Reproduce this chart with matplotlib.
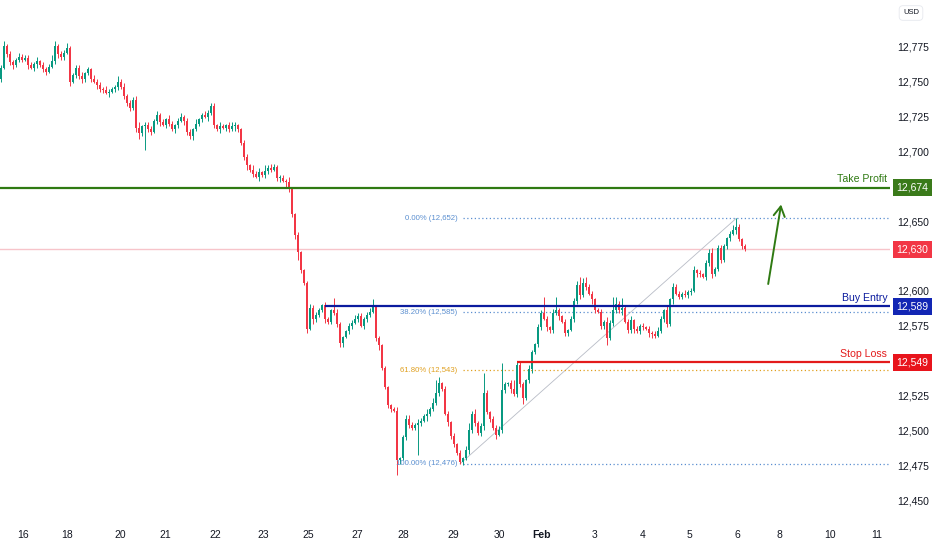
import numpy as np
import matplotlib
matplotlib.use("Agg")
import matplotlib.pyplot as plt
import matplotlib.transforms as mtransforms
from matplotlib import font_manager
from matplotlib.patches import Rectangle

available = {f.name for f in font_manager.fontManager.ttflist}
NARROW = 'Liberation Sans Narrow' if 'Liberation Sans Narrow' in available else 'Liberation Sans'
plt.rcParams['font.family'] = ['Liberation Sans', 'DejaVu Sans']

# candle closes, one per bar (opens are the previous close)
first_open = 12752
closes = [
    12760, 12776, 12770, 12764, 12762, 12766, 12768, 12766, 12767, 12762,
    12760, 12763, 12765, 12762, 12759, 12757, 12761, 12765, 12776, 12770,
    12768, 12771, 12774, 12750, 12755, 12760, 12754, 12752, 12756, 12759,
    12752, 12750, 12748, 12745, 12744, 12742, 12743, 12745, 12746, 12750,
    12746, 12740, 12735, 12731, 12737, 12717, 12713, 12718, 12719, 12716,
    12714, 12722, 12726, 12721, 12719, 12723, 12720, 12716, 12719, 12722,
    12725, 12722, 12714, 12711, 12716, 12720, 12723, 12726, 12725, 12728,
    12733, 12719, 12716, 12718, 12717, 12719, 12716, 12718, 12719, 12716,
    12706, 12696, 12690, 12687, 12684, 12682, 12685, 12683, 12686, 12688,
    12687, 12689, 12681, 12681, 12679, 12678, 12673, 12655, 12640, 12628,
    12615, 12606, 12573, 12588, 12580, 12583, 12586, 12590, 12580, 12578,
    12586, 12584, 12576, 12563, 12567, 12571, 12575, 12577, 12580, 12582,
    12575, 12580, 12583, 12585, 12589, 12566, 12561, 12545, 12531, 12518,
    12515, 12514, 12479, 12480, 12495, 12508, 12504, 12502, 12504, 12505,
    12507, 12510, 12512, 12515, 12520, 12527, 12534, 12530, 12512, 12506,
    12496, 12490, 12484, 12477, 12480, 12486, 12500, 12512, 12505, 12498,
    12503, 12527, 12513, 12508, 12502, 12497, 12500, 12529, 12533, 12534,
    12530, 12526, 12547, 12533, 12523, 12536, 12544, 12556, 12562, 12574,
    12584, 12580, 12574, 12572, 12584, 12586, 12582, 12578, 12570, 12572,
    12580, 12593, 12604, 12597, 12606, 12603, 12598, 12594, 12586, 12585,
    12575, 12578, 12566, 12577, 12586, 12591, 12586, 12588, 12578, 12572,
    12579, 12573, 12571, 12575, 12574, 12573, 12570, 12569, 12568, 12571,
    12580, 12586, 12576, 12594, 12603, 12598, 12596, 12598, 12597, 12599,
    12600, 12615, 12613, 12612, 12610, 12620, 12627, 12612, 12616, 12631,
    12622, 12632, 12638, 12641, 12644, 12646, 12637, 12632, 12630,
]

# wick lengths above / below the body, base-36 digits, one per bar
wick_up = (
    "2312213222" "2131222431" "2242122312" "1322132124" "2312234122"
    "2132213212" "3122131232" "2213212321" "1221323142" "3212214112"
    "1113222121" "1932112232" "2123512111" "1231233213" "2232394122"
    "1212135232" "2e21223j21" "2632213212" "2c213a2121" "2236342212"
    "2132a52712" "3121212123" "2131322132" "2312123412" "221236212"
)
wick_dn = (
    "2122312213" "1231221123" "2213122321" "2132213122" "12221342h2"
    "2123122132" "1322312213" "2213122132" "1232213122" "2123142236"
    "2231422132" "2123312212" "1222123212" "21b312222m" "2132122213"
    "2221213221" "2312231221" "3122412312" "2132213122" "1223121321"
    "2251222312" "2312213321" "1221312212" "2132122312" "212213121"
)

take_profit = 12674
buy_entry = 12589
stop_loss = 12549
last_price = closes[-1]

fib_low, fib_high = 12476, 12652
fib_low_bar, fib_high_bar = 153, 245
fib_levels = [0.0, 0.382, 0.618, 1.0]

buy_entry_start_bar = 108
stop_loss_start_bar = 172
arrow_tail = (255.7, 12605)
arrow_tip = (260.0, 12662)

# scale labels hidden behind the price boxes are left out
price_ticks = [12450, 12475, 12500, 12525, 12575, 12600, 12650, 12700, 12725, 12750, 12775]
date_ticks = [7.3, 22, 39.7, 54.7, 71.3, 87.3, 102.3, 118.7, 134, 150.7,
              166, 180, 197.7, 213.7, 229.3, 245.3, 259.3, 276.3, 292]
date_labels = ['16', '18', '20', '21', '22', '23', '25', '27', '28', '29',
               '30', 'Feb', '3', '4', '5', '6', '8', '10', '11']

UP, DOWN = '#089981', '#f23645'
GREEN, BLUE, RED = '#2f7a12', '#0b1b9e', '#e31b1b'
FIB_BLUE, FIB_ORANGE = '#5b8fd0', '#e0a020'
TEXT = '#131722'

c = np.array(closes, dtype=float)
o = np.concatenate([[first_open], c[:-1]])
up = np.array([int(ch, 36) for ch in wick_up], dtype=float)
dn = np.array([int(ch, 36) for ch in wick_dn], dtype=float)
assert len(up) == len(c) == len(dn)
hi = np.maximum(o, c) + up
lo = np.minimum(o, c) - dn
idx = np.arange(len(c))
colors = np.where(c >= o, UP, DOWN)

fig = plt.figure(figsize=(9.32, 5.5), dpi=100)
fig.patch.set_facecolor('white')
ax = fig.add_axes([0, 28 / 550, 890 / 932, 522 / 550])
ax.set_xlim(-0.33, 296.3)
ax.set_ylim(12434.3, 12808.7)
for s in ax.spines.values():
    s.set_visible(False)

# axes
ax.yaxis.tick_right()
ax.set_yticks(price_ticks, [f"{v:,}" for v in price_ticks])
ax.tick_params(axis='y', length=0, pad=5, labelsize=7.5, labelcolor=TEXT)
ax.set_xticks(date_ticks, date_labels)
ax.tick_params(axis='x', length=0, pad=6, labelsize=7.5, labelcolor=TEXT)
ax.get_xticklabels()[date_labels.index('Feb')].set_fontweight('bold')

# candles
ax.vlines(idx, lo, hi, colors=colors, lw=0.7, zorder=2)
ax.bar(idx, np.maximum(np.abs(c - o), 0.6), bottom=np.minimum(o, c), width=0.62,
       color=colors, linewidth=0, zorder=3)

xmax = ax.get_xlim()[1]

# last price line
ax.axhline(last_price, color='#f7c4ca', lw=1.0, zorder=1)

# fibonacci retracement
ax.plot([fib_low_bar, fib_high_bar], [fib_low, fib_high], color='#b8bcc6', lw=0.6, zorder=1)
for lvl in fib_levels:
    price = fib_high - lvl * (fib_high - fib_low)
    col = FIB_ORANGE if lvl == 0.618 else FIB_BLUE
    ax.hlines(price, fib_low_bar + 1, xmax, colors=col, linestyles=(0, (1, 2)), lw=0.9, zorder=1)
    ax.annotate(f"{lvl * 100:.2f}% ({price:,.0f})", xy=(fib_low_bar, price),
                xytext=(-2, 0), textcoords='offset points', ha='right', va='center',
                fontsize=5.6, color=col, family=NARROW)

# trade levels
ax.axhline(take_profit, color=GREEN, lw=1.6, zorder=4)
ax.hlines(buy_entry, buy_entry_start_bar, xmax, colors=BLUE, lw=1.6, zorder=4)
ax.hlines(stop_loss, stop_loss_start_bar, xmax, colors=RED, lw=1.6, zorder=4)

ytrans = ax.get_yaxis_transform()
for name, price, col in [('Take Profit', take_profit, GREEN),
                         ('Buy Entry', buy_entry, BLUE),
                         ('Stop Loss', stop_loss, RED)]:
    ax.annotate(name, xy=(1, price), xycoords=ytrans, xytext=(-2, 2.5),
                textcoords='offset points', ha='right', va='bottom',
                fontsize=7.6, color=col, family=NARROW)

# price boxes on the right scale
btrans = mtransforms.blended_transform_factory(fig.transFigure, ax.transData)
for price, col in [(take_profit, '#3a7a1a'), (last_price, '#f23645'),
                   (buy_entry, '#1226b4'), (stop_loss, '#e8141c')]:
    ax.add_patch(Rectangle((893 / 932, price - 6.1), 39 / 932, 12.2, transform=btrans,
                           facecolor=col, edgecolor='none', clip_on=False, zorder=6))
    ax.text(912.5 / 932, price, f"{price:,}", transform=btrans, ha='center', va='center',
            color='white', fontsize=7.5, clip_on=False, zorder=7)

# projection arrow
ax.annotate('', xy=arrow_tip, xytext=arrow_tail,
            arrowprops=dict(arrowstyle='->,head_length=0.7,head_width=0.4',
                            color=GREEN, lw=1.4, shrinkA=0, shrinkB=0), zorder=5)

fig.text(911 / 932, 1 - 13 / 550, 'USD', fontsize=5.5, ha='center', va='center', color=TEXT,
         bbox=dict(boxstyle='round,pad=0.5', fc='white', ec='#e6e8ee', lw=0.6))

fig.savefig('out.png', dpi=100)
